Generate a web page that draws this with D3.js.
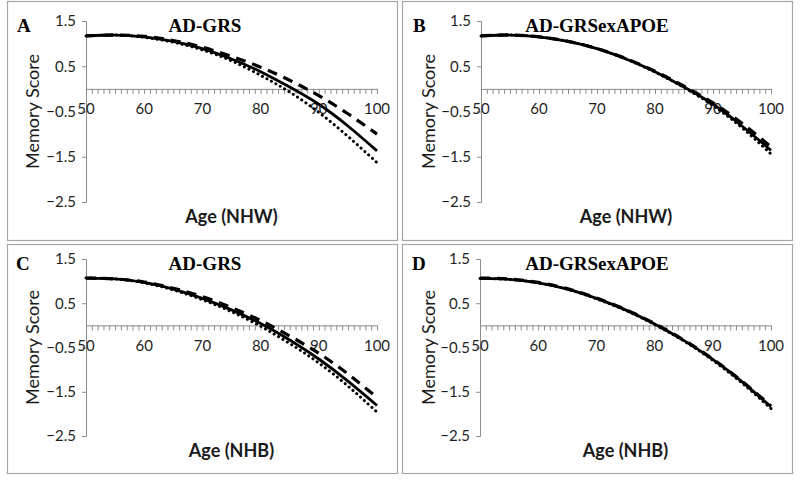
<!DOCTYPE html>
<html>
<head>
<meta charset="utf-8">
<script src="https://cdn.jsdelivr.net/npm/d3@7"></script>
<style>
  body { margin: 0; background: white; }
</style>
</head>
<body>
<div id="chart"></div>
<script>

// ages on the x axis (every 5 years)
var ages = [50, 55, 60, 65, 70, 75, 80, 85, 90, 95, 100];

var yTicks = [1.5, 0.5, -0.5, -1.5, -2.5];
var xTicks = [50, 60, 70, 80, 90, 100];

// A: NHW, AD-GRS
var nhwGrsSolid  = [1.17, 1.19, 1.15, 1.05, 0.89, 0.66, 0.38, 0.04, -0.34, -0.82, -1.37];
var nhwGrsDashed = [1.17, 1.19, 1.16, 1.07, 0.92, 0.72, 0.48, 0.19, -0.15, -0.55, -1.00];
var nhwGrsDotted = [1.17, 1.19, 1.14, 1.03, 0.86, 0.62, 0.30, -0.07, -0.52, -1.05, -1.63];

// B: NHW, AD-GRSexAPOE
var nhwApoeSolid  = [1.17, 1.19, 1.15, 1.05, 0.89, 0.66, 0.38, 0.04, -0.34, -0.82, -1.36];
var nhwApoeDashed = [1.17, 1.19, 1.15, 1.05, 0.89, 0.67, 0.39, 0.06, -0.31, -0.76, -1.28];
var nhwApoeDotted = [1.17, 1.19, 1.15, 1.05, 0.89, 0.66, 0.37, 0.03, -0.37, -0.86, -1.44];

// C: NHB, AD-GRS
var nhbGrsSolid  = [1.07, 1.05, 0.97, 0.82, 0.61, 0.35, 0.04, -0.33, -0.76, -1.26, -1.81];
var nhbGrsDashed = [1.07, 1.05, 0.98, 0.84, 0.65, 0.40, 0.11, -0.24, -0.63, -1.10, -1.63];
var nhbGrsDotted = [1.07, 1.05, 0.96, 0.80, 0.58, 0.31, -0.02, -0.41, -0.85, -1.37, -1.96];

// D: NHB, AD-GRSexAPOE
var nhbApoeSolid  = [1.06, 1.04, 0.96, 0.82, 0.61, 0.35, 0.03, -0.34, -0.77, -1.27, -1.84];
var nhbApoeDashed = [1.07, 1.05, 0.97, 0.83, 0.62, 0.36, 0.04, -0.33, -0.76, -1.26, -1.82];
var nhbApoeDotted = [1.06, 1.04, 0.96, 0.82, 0.60, 0.34, 0.02, -0.35, -0.79, -1.30, -1.88];

var panelLetters = ["A", "B", "C", "D"];
var panelTitles  = ["AD-GRS", "AD-GRSexAPOE", "AD-GRS", "AD-GRSexAPOE"];
var xTitles      = ["Age (NHW)", "Age (NHW)", "Age (NHB)", "Age (NHB)"];
var panelSeries  = [
    [nhwGrsSolid, nhwGrsDashed, nhwGrsDotted],
    [nhwApoeSolid, nhwApoeDashed, nhwApoeDotted],
    [nhbGrsSolid, nhbGrsDashed, nhbGrsDotted],
    [nhbApoeSolid, nhbApoeDashed, nhbApoeDotted]
];

var W = 800, H = 482;

var svg = d3.select("#chart")
    .append("svg")
    .attr("width", W)
    .attr("height", H);

// layout of each panel box (page pixels)
var layout = [
    {box: [7, 1, 390, 239],   x0: 86,  x1: 377, yTop: 21,  yBot: 202, titleX: 205, letterX: 17,  yLabX: 33,  top: 25},
    {box: [402, 1, 390, 239], x0: 481, x1: 771, yTop: 21,  yBot: 202, titleX: 597, letterX: 413, yLabX: 429, top: 25},
    {box: [7, 244, 390, 229], x0: 86,  x1: 377, yTop: 259, yBot: 436, titleX: 205, letterX: 16,  yLabX: 33,  top: 263},
    {box: [402, 244, 390, 229], x0: 480, x1: 771, yTop: 259, yBot: 436, titleX: 597, letterX: 412, yLabX: 429, top: 263}
];

var lineStyles = [
    {dash: null,     width: 2.8, cap: "butt"},
    {dash: "10,7",   width: 3.2, cap: "butt"},
    {dash: "0.1,5",  width: 3,   cap: "round"}
];

var sansFont = "Lato, 'Open Sans', sans-serif";
var serifFont = "'Liberation Serif', 'Times New Roman', serif";

Panel = function(i){
    this.i = i;
    this.cfg = layout[i];
    this.g = svg.append("g");
    this._init();
};

Panel.prototype._init = function(){
    var c = this.cfg;
    this.x = d3.scaleLinear().domain([50, 100]).range([c.x0, c.x1]);
    this.y = d3.scaleLinear().domain([1.5, -2.5]).range([c.yTop, c.yBot]);

    this._draw_box();
    this._draw_axes();
    this._draw_lines();
    this._draw_text();
};

Panel.prototype._draw_box = function(){
    var b = this.cfg.box;
    this.g.append("rect")
        .attr("x", b[0] + 0.5)
        .attr("y", b[1] + 0.5)
        .attr("width", b[2])
        .attr("height", b[3])
        .attr("fill", "white")
        .attr("stroke", "#a6a6a6")
        .attr("stroke-width", 1.2);
};

Panel.prototype._draw_axes = function(){
    var self = this;
    var c = this.cfg;

    // y axis
    var yAxis = d3.axisLeft(this.y)
        .tickValues(yTicks)
        .tickSize(4)
        .tickPadding(6)
        .tickFormat(d3.format(".1f"));

    var ya = this.g.append("g")
        .attr("transform", "translate(" + c.x0 + ",0)")
        .call(yAxis);
    ya.select(".domain").attr("stroke", "#8c8c8c");
    ya.selectAll(".tick line").attr("stroke", "#8c8c8c");
    ya.selectAll("text")
        .attr("font-family", sansFont)
        .attr("font-size", "15px")
        .attr("fill", "#1f1f1f");

    // x axis sits at y = 0, minor ticks every year
    var y0 = this.y(0);
    var xAxis = d3.axisBottom(this.x)
        .tickValues(d3.range(50, 101, 1))
        .tickSize(5)
        .tickSizeOuter(0)
        .tickFormat("");

    var xa = this.g.append("g")
        .attr("transform", "translate(0," + y0 + ")")
        .call(xAxis);
    xa.select(".domain").attr("stroke", "#8c8c8c");
    xa.selectAll(".tick line").attr("stroke", "#8c8c8c");

    this.g.selectAll(".xlab")
        .data(xTicks)
        .enter()
        .append("text")
        .attr("x", function(d){ return self.x(d); })
        .attr("y", y0 + 20)
        .attr("dy", "0.35em")
        .attr("text-anchor", "middle")
        .attr("font-family", sansFont)
        .attr("font-size", "15px")
        .attr("fill", "#1f1f1f")
        .text(function(d){ return d; });
};

Panel.prototype._draw_lines = function(){
    var self = this;
    var series = panelSeries[this.i];

    var line = d3.line()
        .x(function(d, k){ return self.x(ages[k]); })
        .y(function(d){ return self.y(d); })
        .curve(d3.curveNatural);

    series.forEach(function(s, k){
        var st = lineStyles[k];
        self.g.append("path")
            .datum(s)
            .attr("d", line)
            .attr("fill", "none")
            .attr("stroke", "black")
            .attr("stroke-width", st.width)
            .attr("stroke-linecap", st.cap)
            .attr("stroke-dasharray", st.dash);
    });
};

Panel.prototype._draw_text = function(){
    var c = this.cfg;

    this.g.append("text")
        .attr("x", c.letterX)
        .attr("y", c.top)
        .attr("dy", "0.35em")
        .attr("font-family", serifFont)
        .attr("font-weight", "bold")
        .attr("font-size", "19px")
        .text(panelLetters[this.i]);

    this.g.append("text")
        .attr("x", c.titleX)
        .attr("y", c.top)
        .attr("dy", "0.35em")
        .attr("text-anchor", "middle")
        .attr("font-family", serifFont)
        .attr("font-weight", "bold")
        .attr("font-size", "19px")
        .text(panelTitles[this.i]);

    var midY = (c.yTop + c.yBot) / 2;
    this.g.append("text")
        .attr("transform", "translate(" + c.yLabX + "," + midY + ") rotate(-90)")
        .attr("dy", "0.35em")
        .attr("text-anchor", "middle")
        .attr("font-family", sansFont)
        .attr("font-size", "18px")
        .attr("fill", "#1a1a1a")
        .text("Memory Score");

    this.g.append("text")
        .attr("x", (c.x0 + c.x1) / 2)
        .attr("y", c.yBot + 15)
        .attr("dy", "0.35em")
        .attr("text-anchor", "middle")
        .attr("font-family", sansFont)
        .attr("font-weight", "bold")
        .attr("font-size", "18px")
        .attr("fill", "#1a1a1a")
        .text(xTitles[this.i]);
};

for (var i = 0; i < 4; i++) {
    new Panel(i);
}

</script>
</body>
</html>
